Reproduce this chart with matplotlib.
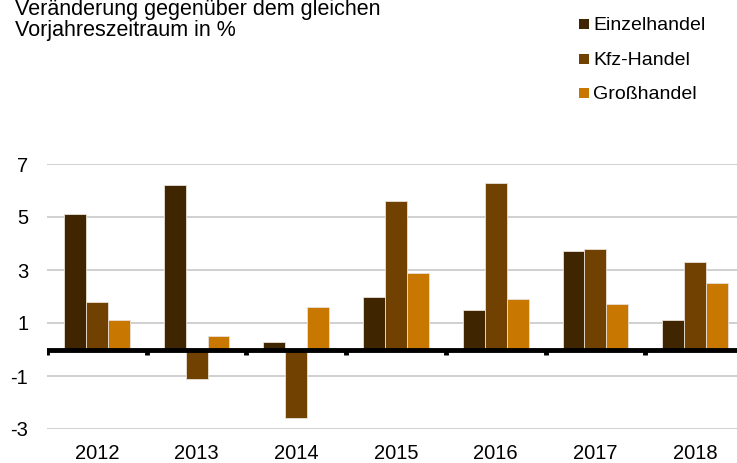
import matplotlib
matplotlib.use("Agg")
import matplotlib.pyplot as plt
import numpy as np
from matplotlib.patches import Rectangle

plt.rcParams['font.family'] = ['Liberation Sans', 'DejaVu Sans']

years = ["2012", "2013", "2014", "2015", "2016", "2017", "2018"]
series_names = ["Einzelhandel", "Kfz-Handel", "Großhandel"]
einzelhandel = [5.1, 6.2, 0.3, 2.0, 1.5, 3.7, 1.1]
kfz_handel = [1.8, -1.1, -2.6, 5.6, 6.3, 3.8, 3.3]
grosshandel = [1.1, 0.5, 1.6, 2.9, 1.9, 1.7, 2.5]
colors = ["#3f2600", "#704100", "#c87800"]
yticks = [-3, -1, 1, 3, 5, 7]

W, H = 737, 463
fig = plt.figure(figsize=(W / 100, H / 100), dpi=100)
ax = fig.add_axes([47 / W, 34 / H, 698 / W, 265 / H])

x = np.arange(len(years))
w = 0.22
for i, (vals, c) in enumerate(zip([einzelhandel, kfz_handel, grosshandel], colors)):
    ax.bar(x + (i - 1) * w, vals, width=w, color=c, edgecolor="#e8e0d8", linewidth=0.6, zorder=3)

ax.set_xlim(-0.5, len(years) - 0.5)
ax.set_ylim(-3, 7)
ax.set_yticks(yticks)
ax.set_yticklabels([str(t) for t in yticks])
ax.yaxis.grid(True, color="#c8c8c8", linewidth=1.2, zorder=0)
ax.set_axisbelow(True)
ax.set_xticks(x)
ax.set_xticklabels(years)
ax.tick_params(axis="both", length=0, labelsize=14.5)
ax.tick_params(axis="y", pad=13.5)
ax.tick_params(axis="x", pad=11)
for s in ax.spines.values():
    s.set_visible(False)

ax.axhline(0, color="black", linewidth=3.5, zorder=4)
bounds = np.arange(len(years)) - 0.5
ax.vlines(bounds, 0, -0.22, color="black", linewidth=3.5, zorder=4)

fig.text(15 / W, 1 - 15 / H, "Veränderung gegenüber dem gleichen",
         fontsize=15.5, va="baseline", ha="left")
fig.text(15 / W, 1 - 36 / H, "Vorjahreszeitraum in %",
         fontsize=15.5, va="baseline", ha="left")

baselines = [30, 65, 99]
for name, c, b in zip(series_names, colors, baselines):
    fig.patches.append(Rectangle((579 / W, 1 - (b - 1) / H), 10 / W, 10 / H,
                                 transform=fig.transFigure, facecolor=c, edgecolor="none"))
    fig.text(593 / W, 1 - b / H, name, fontsize=14, va="baseline", ha="left")

fig.savefig("out.png", dpi=100)
